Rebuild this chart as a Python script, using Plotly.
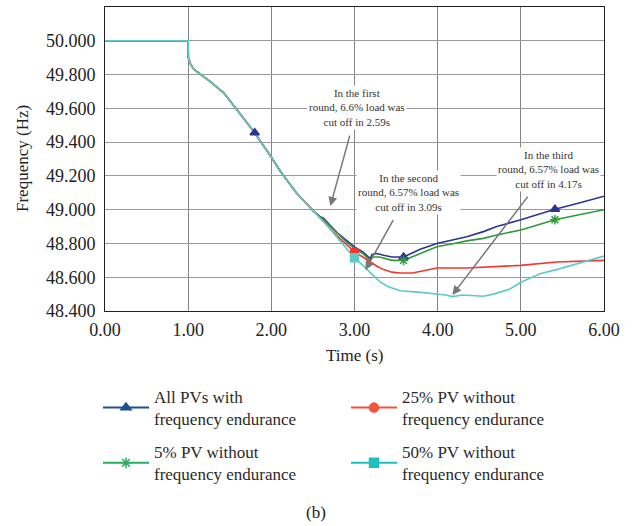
import plotly.graph_objects as go

# ---- data ----
t_common = [0.0, 1.0, 1.002, 1.03, 1.07, 1.15, 1.27, 1.43, 1.57, 1.80, 2.00, 2.11, 2.30, 2.51, 2.58]
f_common = [50.0, 50.0, 49.90, 49.86, 49.83, 49.80, 49.757, 49.69, 49.60, 49.455, 49.31, 49.226, 49.10, 48.99, 48.955]

t_all = [2.60, 2.63, 2.70, 2.80, 2.90, 3.00, 3.10, 3.19, 3.21, 3.27, 3.35, 3.45, 3.59, 3.79, 3.99, 4.20, 4.35, 4.55, 4.71, 5.00, 5.20, 5.41, 5.70, 6.00]
f_all = [48.955, 48.95, 48.91, 48.86, 48.82, 48.78, 48.75, 48.71, 48.735, 48.74, 48.73, 48.72, 48.72, 48.765, 48.80, 48.825, 48.84, 48.87, 48.90, 48.94, 48.97, 49.003, 49.04, 49.08]

t_5 = [2.60, 2.63, 2.70, 2.80, 2.90, 3.00, 3.10, 3.19, 3.22, 3.30, 3.45, 3.59, 3.79, 3.99, 4.20, 4.35, 4.55, 4.71, 5.00, 5.20, 5.41, 5.70, 6.00]
f_5 = [48.95, 48.945, 48.905, 48.855, 48.81, 48.77, 48.74, 48.70, 48.72, 48.72, 48.70, 48.70, 48.74, 48.78, 48.80, 48.815, 48.83, 48.85, 48.88, 48.91, 48.94, 48.97, 49.0]

t_25 = [2.60, 2.63, 2.70, 2.80, 2.90, 3.00, 3.10, 3.19, 3.27, 3.35, 3.45, 3.55, 3.70, 3.80, 3.99, 4.35, 4.63, 5.00, 5.43, 6.00]
f_25 = [48.945, 48.935, 48.89, 48.84, 48.795, 48.75, 48.72, 48.69, 48.665, 48.645, 48.63, 48.625, 48.625, 48.635, 48.655, 48.655, 48.66, 48.67, 48.69, 48.70]

t_50 = [2.70, 2.80, 2.90, 3.00, 3.10, 3.20, 3.30, 3.40, 3.55, 3.80, 4.00, 4.10, 4.17, 4.30, 4.45, 4.55, 4.67, 4.87, 5.00, 5.23, 5.43, 5.75, 6.00]
f_50 = [48.89, 48.83, 48.77, 48.715, 48.67, 48.62, 48.575, 48.545, 48.52, 48.51, 48.50, 48.495, 48.485, 48.495, 48.49, 48.487, 48.50, 48.53, 48.57, 48.62, 48.645, 48.69, 48.725]

names = ["All PVs with<br>frequency endurance", "25% PV without<br>frequency endurance",
         "5% PV without<br>frequency endurance", "50% PV without<br>frequency endurance"]
colors = ["#2b3596", "#f2382e", "#2f9a3c", "#5ccaca"]
legend_colors = ["#1f4f8f", "#f0553a", "#27ae60", "#20c0c0"]
symbols = ["triangle-up", "circle", "asterisk-open", "square"]

mk_all_t, mk_all_f = [1.80, 3.59, 5.41], [49.455, 48.72, 49.003]
mk_5_t, mk_5_f = [3.59, 5.41], [48.70, 48.94]
mk_25_t, mk_25_f = [3.00], [48.75]
mk_50_t, mk_50_f = [3.00], [48.715]

x_ticks = [0, 1, 2, 3, 4, 5, 6]
y_ticks = [48.4, 48.6, 48.8, 49.0, 49.2, 49.4, 49.6, 49.8, 50.0]

FONT = "Liberation Serif"

fig = go.Figure()
series = [
    (t_common[:-1] + t_all, f_common[:-1] + f_all, colors[0]),
    (t_common[:-1] + t_5, f_common[:-1] + f_5, colors[2]),
    (t_common[:-1] + t_25, f_common[:-1] + f_25, colors[1]),
    (t_common + t_50, f_common + f_50, colors[3]),
]
for tx, fy, c in series:
    fig.add_trace(go.Scatter(x=tx, y=fy, mode="lines", line=dict(color=c, width=1.6),
                             showlegend=False, hoverinfo="skip"))

markers = [
    (mk_all_t, mk_all_f, colors[0], symbols[0]),
    (mk_5_t, mk_5_f, colors[2], symbols[2]),
    (mk_25_t, mk_25_f, colors[1], symbols[1]),
    (mk_50_t, mk_50_f, colors[3], symbols[3]),
]
for tx, fy, c, s in markers:
    fig.add_trace(go.Scatter(x=tx, y=fy, mode="markers", showlegend=False, hoverinfo="skip",
                             marker=dict(color=c, symbol=s, size=8, line=dict(color=c, width=1.5))))

# legend entries: column 1 -> legend, column 2 -> legend2
legend_ids = ["legend", "legend2", "legend", "legend2"]
for i in range(4):
    fig.add_trace(go.Scatter(x=[None], y=[None], mode="lines+markers", name=names[i],
                             legend=legend_ids[i], legendgroup="g%d" % i,
                             line=dict(color=legend_colors[i], width=2),
                             marker=dict(color=legend_colors[i], symbol=symbols[i], size=9,
                                         line=dict(color=legend_colors[i], width=1.5))))

def px_to_t(x):
    return (x - 104.5) / 83.2

def px_to_f(y):
    return 50 - (y - 41) / 168.75

ann_font = dict(family=FONT, size=11, color="#333")
anns = [
    ("In the first<br>round, 6.6% load was<br>cut off in 2.59s", (357, 108), (330, 206)),
    ("In the second<br>round, 6.57% load was<br>cut off in 3.09s", (408, 193), (365, 270)),
    ("In the third<br>round, 6.57% load was<br>cut off in 4.17s", (548, 170), (452, 295)),
]
for txt, (tx, ty), (hx, hy) in anns:
    fig.add_annotation(x=px_to_t(hx), y=px_to_f(hy), ax=px_to_t(tx), ay=px_to_f(ty),
                       xref="x", yref="y", axref="x", ayref="y", text=txt, showarrow=True,
                       arrowhead=2, arrowsize=1.2, arrowwidth=1.5, arrowcolor="#777",
                       startstandoff=6, font=ann_font, bgcolor="white", align="center")

# axis titles and panel label (paper coords: plot spans x 105..604 px, y 7..311 px)
fig.add_annotation(x=(316 - 105) / 499, y=(311 - 512) / 304, xref="paper", yref="paper", text="(b)",
                   showarrow=False, xanchor="center", yanchor="middle",
                   font=dict(family=FONT, size=17, color="#222"))
fig.add_annotation(x=(354 - 105) / 499, y=(311 - 355) / 304, xref="paper", yref="paper", text="Time (s)",
                   showarrow=False, xanchor="center", yanchor="middle",
                   font=dict(family=FONT, size=17, color="#222"))
fig.add_annotation(x=(22 - 105) / 499, y=0.5, xref="paper", yref="paper", text="Frequency (Hz)",
                   showarrow=False, xanchor="center", yanchor="middle", textangle=-90,
                   font=dict(family=FONT, size=17, color="#222"))

leg_common = dict(orientation="v", xref="container", yref="container", xanchor="left", yanchor="top",
                  font=dict(family=FONT, size=17, color="#2a2a2a"), traceorder="grouped",
                  tracegroupgap=8, itemwidth=46, bgcolor="rgba(0,0,0,0)")
fig.update_layout(
    width=632, height=526,
    margin=dict(l=105, r=28, t=7, b=215, autoexpand=False),
    paper_bgcolor="white", plot_bgcolor="white",
    font=dict(family=FONT, size=17, color="#222"),
    legend=dict(x=98 / 632, y=1 - 379 / 526, **leg_common),
    legend2=dict(x=346 / 632, y=1 - 379 / 526, **leg_common),
)
fig.update_xaxes(range=[0, 6], tickvals=x_ticks, tickformat=".2f", showgrid=True,
                 gridcolor="#858585", gridwidth=1, showline=True, linecolor="#222", mirror=True,
                 ticks="", automargin=False, ticklabelstandoff=2,
                 tickfont=dict(family=FONT, size=18), zeroline=False)
fig.update_yaxes(range=[48.4, 50.2], tickvals=y_ticks, tickformat=".3f", showgrid=True,
                 gridcolor="#9a9a9a", gridwidth=1, showline=True, linecolor="#222", mirror=True,
                 ticks="", automargin=False, ticklabelstandoff=5,
                 tickfont=dict(family=FONT, size=18), zeroline=False)

fig.write_html("out.html", config={"displayModeBar": False},
               post_script="document.body.style.margin='0px';")
